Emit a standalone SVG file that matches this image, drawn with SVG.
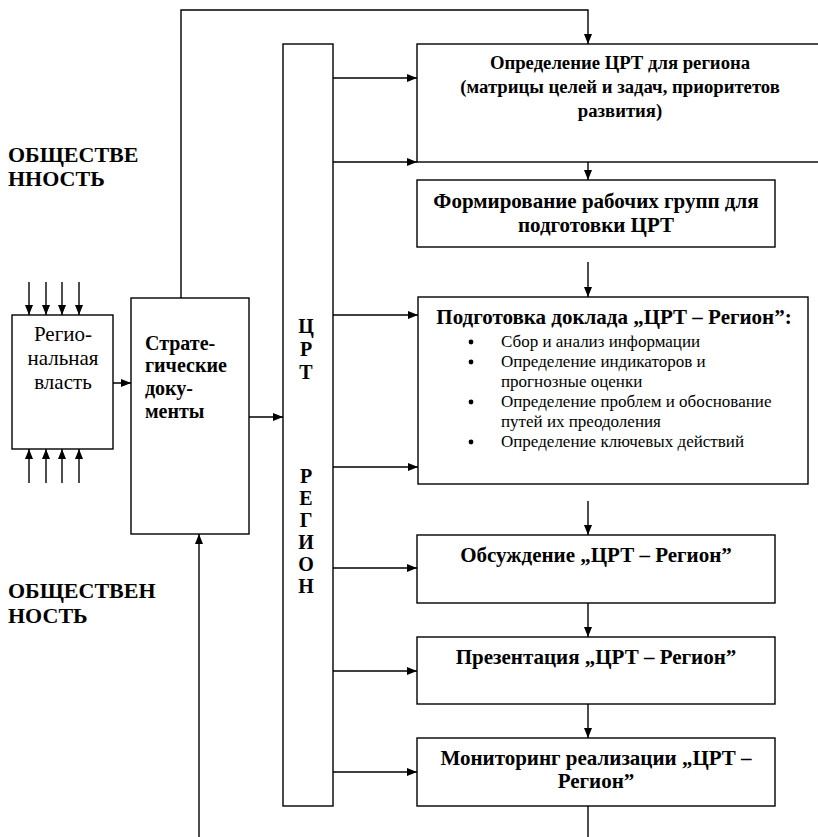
<svg xmlns="http://www.w3.org/2000/svg" width="818" height="837" viewBox="0 0 818 837">
<defs>
<marker id="ah" viewBox="0 0 10 8" refX="10" refY="4" markerWidth="10" markerHeight="8" markerUnits="userSpaceOnUse" orient="auto">
<path d="M0,0 L10,4 L0,8 Z" fill="#000"/>
</marker>
<style>
.box{fill:#fff;stroke:#000;stroke-width:1.4}
.ln{fill:none;stroke:#000;stroke-width:1.4}
.arr{fill:none;stroke:#000;stroke-width:1.4;marker-end:url(#ah)}
text{font-family:'Liberation Serif','DejaVu Serif',serif;fill:#000}
.t{font-weight:bold;font-size:21px;text-anchor:middle}
.t1{font-weight:bold;font-size:18.7px;text-anchor:middle}
.st{font-weight:bold;font-size:20px}
.side{font-weight:bold;font-size:22px}
.reg{font-size:21px;text-anchor:middle}
.bl{font-size:17px}
.col{font-weight:bold;font-size:20px;text-anchor:middle}
</style>
</defs>
<rect width="818" height="837" fill="#fff"/>

<g id="connectors">
<polyline class="arr" points="181,298 181,10 588,10 588,44"/>
<line class="arr" x1="333" y1="78" x2="417" y2="78"/>
<line class="arr" x1="333" y1="162" x2="417" y2="162"/>
<line class="arr" x1="588" y1="162" x2="588" y2="180"/>
<line class="arr" x1="588" y1="262" x2="588" y2="297"/>
<line class="arr" x1="333" y1="315" x2="418" y2="315"/>
<line class="arr" x1="333" y1="467" x2="418" y2="467"/>
<line class="arr" x1="588" y1="501" x2="588" y2="535"/>
<line class="arr" x1="333" y1="568" x2="417" y2="568"/>
<line class="arr" x1="588" y1="603" x2="588" y2="637"/>
<line class="arr" x1="333" y1="671" x2="417" y2="671"/>
<line class="arr" x1="588" y1="704" x2="588" y2="738"/>
<line class="arr" x1="333" y1="772" x2="417" y2="772"/>
<line class="ln" x1="588" y1="806" x2="588" y2="837"/>
<line class="arr" x1="249" y1="417" x2="283" y2="417"/>
<line class="arr" x1="97" y1="383" x2="131" y2="383"/>
<line class="arr" x1="199" y1="837" x2="199" y2="534"/>
<line class="arr" x1="29" y1="282" x2="29" y2="315"/>
<line class="arr" x1="46" y1="282" x2="46" y2="315"/>
<line class="arr" x1="62" y1="282" x2="62" y2="315"/>
<line class="arr" x1="79" y1="282" x2="79" y2="315"/>
<line class="arr" x1="29" y1="483" x2="29" y2="449"/>
<line class="arr" x1="46" y1="483" x2="46" y2="449"/>
<line class="arr" x1="62" y1="483" x2="62" y2="449"/>
<line class="arr" x1="79" y1="483" x2="79" y2="449"/>
</g>

<g id="public-top">
<text class="side" x="8" y="162">ОБЩЕСТВЕ</text>
<text class="side" x="8" y="186">ННОСТЬ</text>
</g>
<g id="public-bottom">
<text class="side" x="8" y="598">ОБЩЕСТВЕН</text>
<text class="side" x="8" y="623">НОСТЬ</text>
</g>

<g id="regional-power">
<rect class="box" x="12" y="315" width="101" height="134"/>
<text class="reg" x="63" y="341">Регио-</text>
<text class="reg" x="63" y="365">нальная</text>
<text class="reg" x="63" y="389">власть</text>
</g>

<g id="strategic-docs">
<rect class="box" x="131" y="298" width="118" height="236"/>
<text class="st" x="145" y="350">Страте-</text>
<text class="st" x="145" y="372">гические</text>
<text class="st" x="145" y="395">доку-</text>
<text class="st" x="145" y="418">менты</text>
</g>

<g id="crt-region">
<rect class="box" x="283" y="44" width="50" height="762"/>
<text class="col" x="306" y="333">Ц</text>
<text class="col" x="306" y="356">Р</text>
<text class="col" x="306" y="379">Т</text>
<text class="col" x="306" y="483">Р</text>
<text class="col" x="306" y="505">Е</text>
<text class="col" x="306" y="527">Г</text>
<text class="col" x="306" y="549">И</text>
<text class="col" x="306" y="571">О</text>
<text class="col" x="306" y="593">Н</text>
</g>

<g id="define-crt">
<rect class="box" x="417" y="44" width="410" height="118"/>
<text class="t1" x="620" y="69">Определение ЦРТ для региона</text>
<text class="t1" x="620" y="93">(матрицы целей и задач, приоритетов</text>
<text class="t1" x="620" y="117">развития)</text>
</g>

<g id="working-groups">
<rect class="box" x="417" y="180" width="358" height="67"/>
<text class="t" x="596" y="208">Формирование рабочих групп для</text>
<text class="t" x="596" y="232">подготовки ЦРТ</text>
</g>

<g id="report">
<rect class="box" x="418" y="297" width="390" height="187"/>
<text class="t" x="614" y="324">Подготовка доклада „ЦРТ – Регион”:</text>
<circle cx="471" cy="342" r="2.4"/>
<text class="bl" x="501" y="347">Сбор и анализ информации</text>
<circle cx="471" cy="362" r="2.4"/>
<text class="bl" x="501" y="367">Определение индикаторов и</text>
<text class="bl" x="501" y="387">прогнозные оценки</text>
<circle cx="471" cy="402" r="2.4"/>
<text class="bl" x="501" y="407">Определение проблем и обоснование</text>
<text class="bl" x="501" y="427">путей их преодоления</text>
<circle cx="471" cy="442" r="2.4"/>
<text class="bl" x="501" y="447">Определение ключевых действий</text>
</g>

<g id="discussion">
<rect class="box" x="417" y="535" width="358" height="68"/>
<text class="t" x="596" y="562">Обсуждение „ЦРТ – Регион”</text>
</g>

<g id="presentation">
<rect class="box" x="417" y="637" width="358" height="67"/>
<text class="t" x="596" y="664">Презентация „ЦРТ – Регион”</text>
</g>

<g id="monitoring">
<rect class="box" x="417" y="738" width="358" height="68"/>
<text class="t" x="596" y="765">Мониторинг реализации „ЦРТ –</text>
<text class="t" x="596" y="788">Регион”</text>
</g>
</svg>
